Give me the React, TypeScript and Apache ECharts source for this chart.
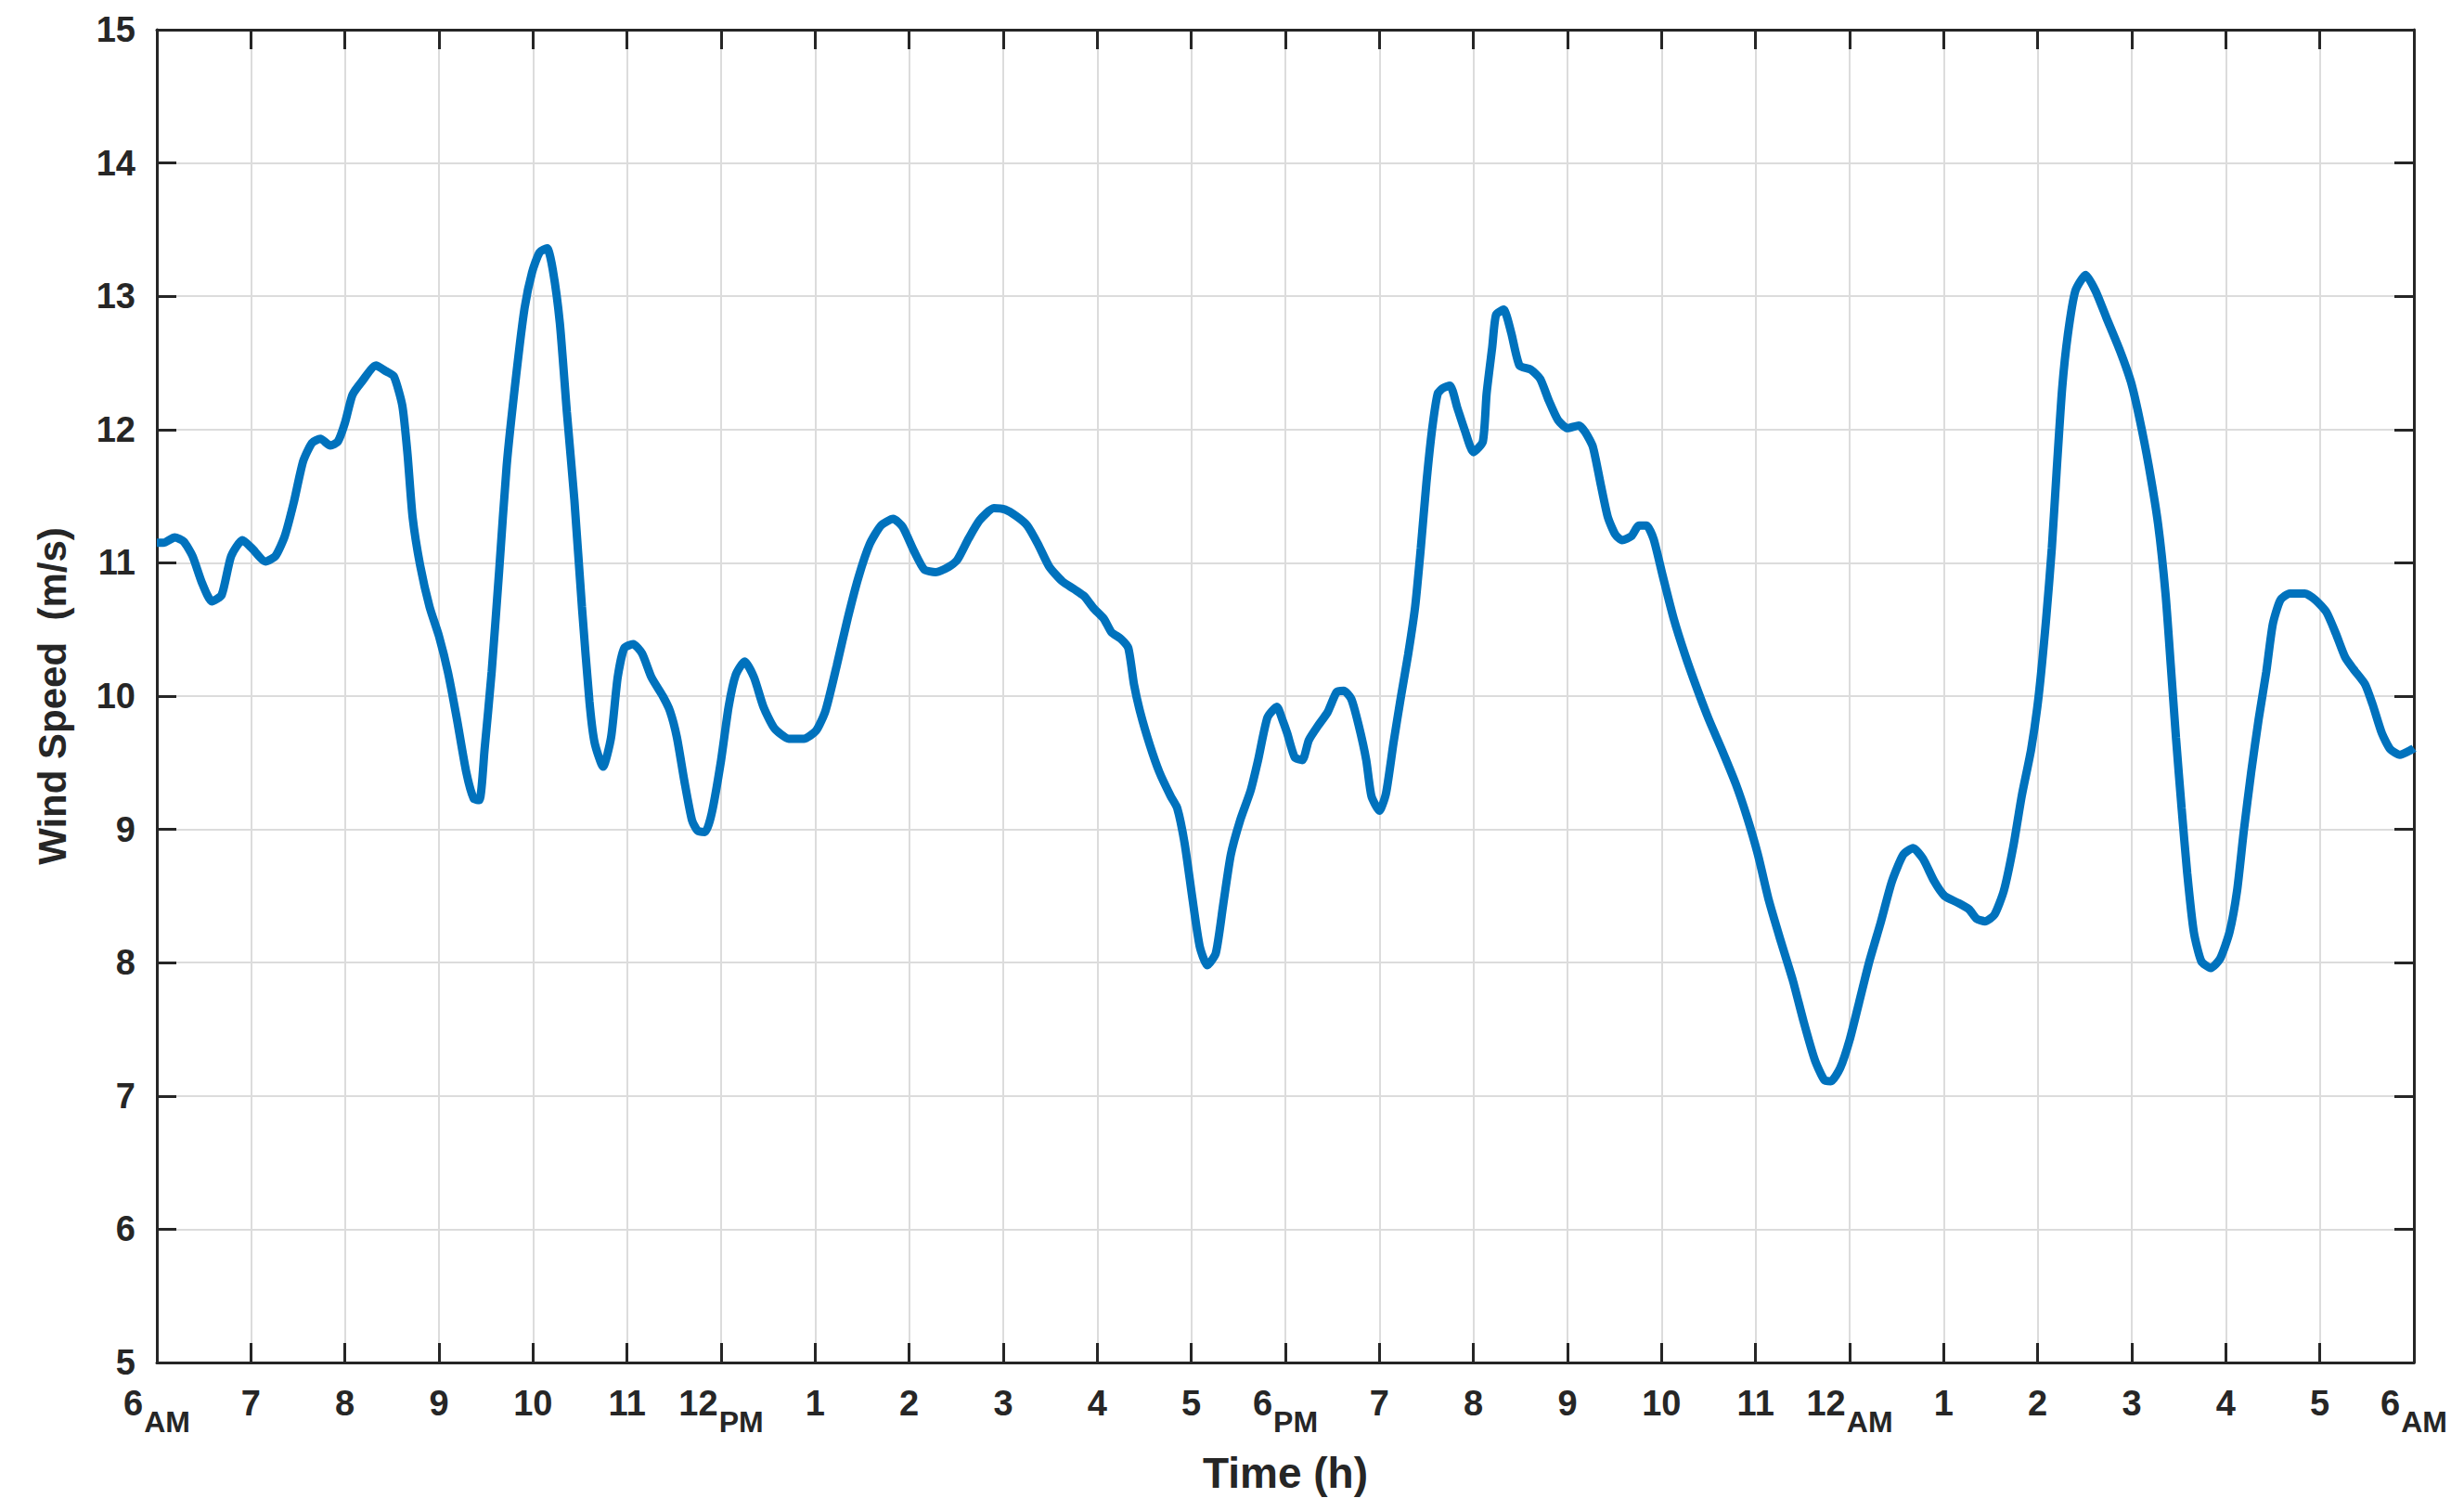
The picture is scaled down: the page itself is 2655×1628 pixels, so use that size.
import React, { useEffect, useRef } from "react";
import * as echarts from "echarts";

const hours = [
  0, 0.07, 0.19, 0.285, 0.38, 0.48, 0.585, 0.69, 0.79, 0.91, 1.01, 1.155, 1.26, 1.36, 1.455, 1.555, 1.65, 1.74, 1.845, 1.925,
  2.0, 2.08, 2.18, 2.33, 2.43, 2.52, 2.61, 2.665, 2.72, 2.8, 2.9, 3.0, 3.095, 3.19, 3.29, 3.37, 3.43, 3.485, 3.56, 3.64,
  3.72, 3.82, 3.91, 3.99, 4.07, 4.15, 4.21, 4.285, 4.36, 4.44, 4.52, 4.6, 4.655, 4.745, 4.83, 4.9, 4.97, 5.065, 5.16, 5.26,
  5.38, 5.455, 5.53, 5.61, 5.69, 5.75, 5.83, 5.9, 6.0, 6.08, 6.156, 6.25, 6.35, 6.45, 6.565, 6.72, 6.88, 7.01, 7.11, 7.23,
  7.345, 7.46, 7.58, 7.7, 7.83, 7.93, 8.05, 8.16, 8.28, 8.42, 8.51, 8.63, 8.75, 8.9, 9.02, 9.14, 9.255, 9.37, 9.49, 9.63,
  9.76, 9.86, 9.96, 10.07, 10.15, 10.25, 10.33, 10.39, 10.46, 10.56, 10.66, 10.78, 10.85, 10.93, 11.01, 11.09, 11.17, 11.26, 11.34, 11.42,
  11.52, 11.63, 11.71, 11.81, 11.91, 11.97, 12.02, 12.1, 12.18, 12.25, 12.35, 12.45, 12.545, 12.62, 12.7, 12.78, 12.86, 12.915, 13.0, 13.07,
  13.15, 13.23, 13.305, 13.38, 13.44, 13.5, 13.56, 13.62, 13.675, 13.75, 13.83, 13.91, 14.0, 14.1, 14.14, 14.2, 14.24, 14.32, 14.4, 14.49,
  14.61, 14.71, 14.8, 14.9, 15.0, 15.12, 15.19, 15.27, 15.35, 15.43, 15.51, 15.58, 15.68, 15.76, 15.84, 15.915, 16.01, 16.13, 16.25, 16.36,
  16.5, 16.64, 16.79, 16.91, 17.025, 17.14, 17.26, 17.395, 17.51, 17.63, 17.73, 17.8, 17.9, 18.0, 18.1, 18.21, 18.33, 18.45, 18.57, 18.675,
  18.78, 18.9, 19.01, 19.15, 19.27, 19.35, 19.44, 19.54, 19.64, 19.74, 19.83, 19.93, 20.01, 20.09, 20.15, 20.205, 20.26, 20.32, 20.4, 20.51,
  20.615, 20.73, 20.87, 20.99, 21.08, 21.18, 21.28, 21.36, 21.415, 21.47, 21.53, 21.59, 21.66, 21.74, 21.84, 21.94, 22.04, 22.12, 22.19, 22.27,
  22.35, 22.43, 22.5, 22.58, 22.68, 22.84, 22.955, 23.07, 23.17, 23.27, 23.36, 23.48, 23.56, 23.66, 23.75, 23.85, 23.98, 24.0,
];

const speeds = [
  11.15, 11.15, 11.19, 11.16, 11.05, 10.85, 10.71, 10.76, 11.05, 11.17, 11.11, 11.01, 11.05, 11.2, 11.45, 11.76, 11.9, 11.93, 11.88, 11.91,
  12.05, 12.26, 12.36, 12.48, 12.44, 12.4, 12.18, 11.82, 11.34, 10.98, 10.67, 10.45, 10.18, 9.83, 9.43, 9.23, 9.22, 9.6, 10.18, 10.94,
  11.73, 12.4, 12.91, 13.18, 13.33, 13.36, 13.2, 12.8, 12.13, 11.47, 10.67, 9.96, 9.65, 9.47, 9.69, 10.14, 10.36, 10.39, 10.32, 10.14,
  10.0, 9.89, 9.69, 9.36, 9.07, 8.99, 8.98, 9.12, 9.52, 9.92, 10.16, 10.26, 10.14, 9.92, 9.76, 9.68, 9.68, 9.74, 9.89, 10.23,
  10.58, 10.89, 11.14, 11.28, 11.33, 11.27, 11.09, 10.95, 10.93, 10.97, 11.02, 11.18, 11.32, 11.41, 11.4, 11.35, 11.28, 11.14, 10.97, 10.86,
  10.8, 10.75, 10.66, 10.58, 10.48, 10.43, 10.36, 10.09, 9.87, 9.63, 9.43, 9.25, 9.16, 8.89, 8.49, 8.12, 7.98, 8.07, 8.44, 8.81,
  9.07, 9.29, 9.52, 9.84, 9.92, 9.82, 9.72, 9.54, 9.52, 9.67, 9.78, 9.88, 10.03, 10.04, 9.98, 9.78, 9.52, 9.25, 9.14, 9.27,
  9.65, 10.0, 10.31, 10.67, 11.11, 11.6, 12.0, 12.27, 12.31, 12.33, 12.16, 11.99, 11.83, 11.91, 12.27, 12.62, 12.86, 12.9, 12.73, 12.48,
  12.45, 12.38, 12.22, 12.07, 12.01, 12.03, 11.98, 11.87, 11.6, 11.34, 11.21, 11.17, 11.2, 11.28, 11.28, 11.18, 10.91, 10.58, 10.31, 10.09,
  9.83, 9.6, 9.34, 9.09, 8.81, 8.47, 8.18, 7.87, 7.56, 7.27, 7.12, 7.11, 7.21, 7.42, 7.7, 8.01, 8.3, 8.61, 8.81, 8.86,
  8.78, 8.61, 8.5, 8.45, 8.4, 8.33, 8.31, 8.36, 8.54, 8.87, 9.25, 9.6, 10.0, 10.58, 11.11, 11.73, 12.31, 12.71, 13.04, 13.16,
  13.04, 12.84, 12.6, 12.36, 12.09, 11.73, 11.29, 10.76, 10.23, 9.69, 9.16, 8.67, 8.23, 8.01, 7.96, 8.03, 8.23, 8.54, 8.98, 9.43,
  9.83, 10.18, 10.54, 10.72, 10.77, 10.77, 10.72, 10.63, 10.47, 10.29, 10.2, 10.09, 9.94, 9.72, 9.6, 9.56, 9.6, 9.61,
];

const tickNumbers = ["6", "7", "8", "9", "10", "11", "12", "1", "2", "3", "4", "5", "6", "7", "8", "9", "10", "11", "12", "1", "2", "3", "4", "5", "6"];
const tickSuffixes = ["AM", "", "", "", "", "", "PM", "", "", "", "", "", "PM", "", "", "", "", "", "AM", "", "", "", "", "", "AM"];

const xName = "Time (h)";
const yName = "Wind Speed  (m/s)";

const FONT = "'Liberation Sans', Arial, Helvetica, sans-serif";
const TEXT = "#262626";

export default function App() {
  const ref = useRef<HTMLDivElement>(null);

  useEffect(() => {
    if (!ref.current) return;
    const chart = echarts.init(ref.current, undefined, { renderer: "svg" });

    const axisLine = { show: true, onZero: false, lineStyle: { color: TEXT, width: 3 } };
    const axisTick = { show: true, inside: true, length: 21, lineStyle: { color: TEXT, width: 3 } };

    const option = {
      animation: false,
      backgroundColor: "#ffffff",
      grid: { left: 169, right: 54, top: 32, bottom: 160, containLabel: false },
      xAxis: [
        {
          type: "value",
          min: 0,
          max: 24,
          interval: 1,
          position: "bottom",
          name: xName,
          nameLocation: "middle",
          nameGap: 96,
          nameTextStyle: { fontSize: 46, fontWeight: "bold", color: TEXT, fontFamily: FONT },
          axisLine,
          axisTick,
          axisLabel: {
            margin: 8,
            showMinLabel: true,
            showMaxLabel: true,
            color: TEXT,
            fontFamily: FONT,
            formatter: (v: number) => {
              const i = Math.round(v);
              const n = tickNumbers[i] ?? "";
              const s = tickSuffixes[i] ?? "";
              return s ? `{n|${n}}{s|${s}}` : `{m|${n}}`;
            },
            rich: {
              n: { fontSize: 38, fontWeight: "bold", color: TEXT, fontFamily: FONT },
              m: { fontSize: 38, fontWeight: "bold", color: TEXT, fontFamily: FONT, padding: [17, 0, 17, 0] },
              s: { fontSize: 32, fontWeight: "bold", color: TEXT, fontFamily: FONT, padding: [40, 0, 0, 1] },
            },
          },
          splitLine: { show: true, lineStyle: { color: "#dcdcdc", width: 2 } },
        },
        {
          type: "value",
          min: 0,
          max: 24,
          interval: 1,
          position: "top",
          axisLine,
          axisTick,
          axisLabel: { show: false },
          splitLine: { show: false },
        },
      ],
      yAxis: [
        {
          type: "value",
          min: 5,
          max: 15,
          interval: 1,
          position: "left",
          name: yName,
          nameLocation: "middle",
          nameGap: 92,
          nameTextStyle: { fontSize: 42, fontWeight: "bold", color: TEXT, fontFamily: FONT },
          axisLine,
          axisTick,
          axisLabel: { margin: 23, fontSize: 38, fontWeight: "bold", color: TEXT, fontFamily: FONT },
          splitLine: { show: true, lineStyle: { color: "#dcdcdc", width: 2 } },
        },
        {
          type: "value",
          min: 5,
          max: 15,
          interval: 1,
          position: "right",
          axisLine,
          axisTick,
          axisLabel: { show: false },
          splitLine: { show: false },
        },
      ],
      series: [
        {
          type: "line",
          xAxisIndex: 0,
          yAxisIndex: 0,
          data: hours.map((h, i) => [h, speeds[i]]),
          showSymbol: false,
          symbol: "none",
          smooth: 0.2,
          lineStyle: { color: "#0072BD", width: 9 },
          z: 3,
        },
      ],
    };

    chart.setOption(option as any);
    return () => chart.dispose();
  }, []);

  return (
    <div
      ref={ref}
      style={{ position: "fixed", left: 0, top: 0, width: 2655, height: 1628, background: "#fff" }}
    />
  );
}
